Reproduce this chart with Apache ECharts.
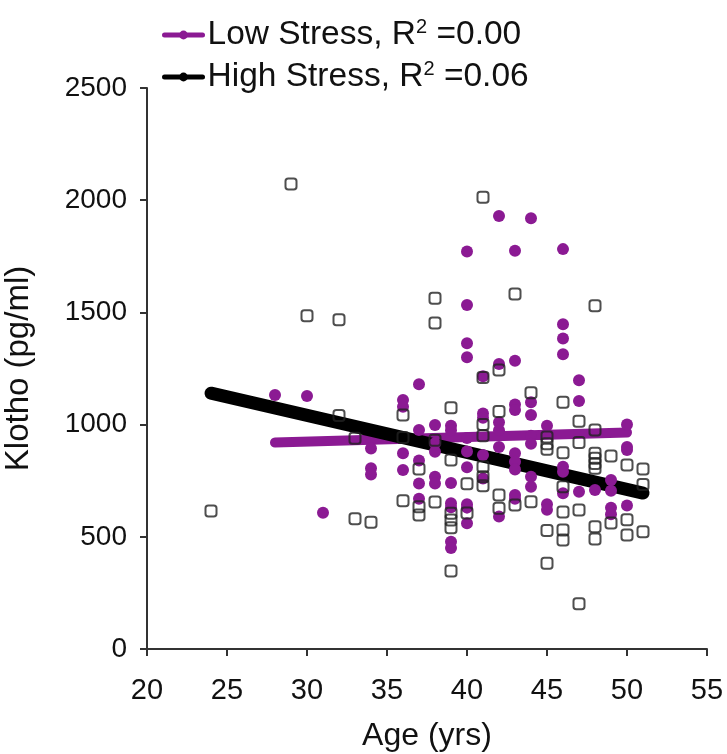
<!DOCTYPE html>
<html>
<head>
<meta charset="utf-8">
<script src="https://cdn.jsdelivr.net/npm/echarts@6/dist/echarts.min.js"></script>
<style>
html,body{margin:0;padding:0;background:#fff;}
#chart{width:727px;height:754px;}
</style>
</head>
<body>
<div id="chart"></div>
<script>
// ---- data ----
const xTicks = [20, 25, 30, 35, 40, 45, 50, 55];
const yTicks = [0, 500, 1000, 1500, 2000, 2500];

const lowAge = [
  28, 30, 31,
  34, 34, 34,
  36, 36, 36, 36,
  37, 37, 37, 37, 37,
  38, 38, 38, 38, 38,
  39, 39, 39, 39, 39, 39, 39,
  40, 40, 40, 40, 40, 40, 40, 40, 40, 40,
  41, 41, 41, 41, 41,
  42, 42, 42, 42, 42, 42,
  43, 43, 43, 43, 43, 43, 43, 43, 43,
  44, 44, 44, 44, 44, 44, 44,
  45, 45, 45,
  46, 46, 46, 46, 46, 46, 46,
  47, 47, 47,
  48,
  49, 49, 49, 49,
  50, 50, 50, 50
];
const lowKlotho = [
  1132, 1127, 607,
  894, 805, 778,
  1110, 1080, 872, 798,
  1180, 976, 840, 738, 670,
  998, 917, 879, 768, 738,
  995, 975, 740, 650, 632, 478, 450,
  1771, 1533, 1362, 1300, 940, 880, 810, 645, 630, 560,
  1215, 1050, 1030, 865, 760,
  1930, 1270, 1010, 975, 900, 590,
  1775, 1285, 1090, 1065, 872, 835, 800, 686, 670,
  1920, 1100, 1043, 950, 915, 768, 723,
  995, 645, 620,
  1782, 1447, 1384, 1314, 812, 790, 694,
  1198, 1105, 701,
  709,
  753, 705, 630, 600,
  1000, 900, 887, 640
];

const highAge = [
  24, 29, 30,
  32, 32,
  33, 33,
  34,
  36, 36, 36,
  37, 37, 37,
  38, 38, 38, 38,
  39, 39, 39, 39, 39, 39,
  40, 40,
  41, 41, 41, 41, 41, 41, 41,
  42, 42, 42, 42,
  43, 43,
  44, 44,
  45, 45, 45, 45, 45,
  46, 46, 46, 46, 46, 46,
  47, 47, 47, 47,
  48, 48, 48, 48, 48, 48, 48, 48,
  49, 49,
  50, 50, 50,
  51, 51, 51
];
const highKlotho = [
  615, 2072, 1485,
  1467, 1040,
  939, 580,
  565,
  1043, 943, 661,
  802, 634, 597,
  1563, 1453, 930, 655,
  1075, 842, 605, 575, 540, 348,
  736, 606,
  2013, 1210, 1000, 950, 812, 768, 728,
  1243, 1058, 686, 627,
  1582, 642,
  1142, 656,
  945, 915, 890, 528, 382,
  1100, 875, 723, 610, 530, 486,
  1015, 920, 619, 202,
  1530, 976, 872, 850, 827, 805, 545, 490,
  860, 562,
  820, 576, 508,
  802, 733, 523
];

// trend lines (end points)
const lowTrendAge = [28, 50];
const lowTrendKlotho = [920, 965];
const highTrendAge = [24, 51];
const highTrendKlotho = [1140, 695];

const lowName = 'Low Stress';
const highName = 'High Stress';
const lowR2 = '0.00';
const highR2 = '0.06';

// ---- build ----
const zip = (a, b) => a.map((v, i) => [v, b[i]]);
const purple = '#8b1a93';
const FONT = '"Liberation Sans", Arial, sans-serif';

const chart = echarts.init(document.getElementById('chart'), null, {renderer: 'canvas'});
chart.setOption({
  animation: false,
  backgroundColor: '#ffffff',
  textStyle: {fontFamily: FONT},
  grid: {left: 147, right: 20, top: 88, bottom: 105, containLabel: false, outerBoundsMode: 'none'},
  legend: {
    orient: 'vertical',
    left: 157,
    top: 12,
    itemGap: 7,
    itemWidth: 38,
    itemHeight: 11,
    data: [lowName, highName],
    lineStyle: {width: 5},
    formatter: function (n) {
      const r = n === lowName ? lowR2 : highR2;
      return '{t|' + n + ', R}{s|2}{t| =' + r + '}';
    },
    textStyle: {
      color: '#111',
      rich: {
        t: {fontSize: 33.5, fontFamily: FONT, color: '#111', lineHeight: 36},
        s: {fontSize: 20, fontFamily: FONT, color: '#111', verticalAlign: 'top', lineHeight: 20}
      }
    }
  },
  xAxis: {
    type: 'value',
    min: xTicks[0],
    max: xTicks[xTicks.length - 1],
    interval: 5,
    name: 'Age (yrs)',
    nameLocation: 'middle',
    nameGap: 71,
    nameTextStyle: {fontSize: 32, color: '#111', fontFamily: FONT},
    axisLine: {show: true, lineStyle: {color: '#333', width: 2}},
    axisTick: {show: true, inside: false, length: 7, lineStyle: {color: '#333', width: 2}},
    axisLabel: {fontSize: 29, color: '#111', margin: 27, fontFamily: FONT},
    splitLine: {show: false}
  },
  yAxis: {
    type: 'value',
    min: yTicks[0],
    max: yTicks[yTicks.length - 1],
    interval: 500,
    name: 'Klotho (pg/ml)',
    nameLocation: 'middle',
    nameGap: 112,
    nameRotate: 90,
    nameTextStyle: {fontSize: 33, color: '#111', fontFamily: FONT},
    axisLine: {show: true, lineStyle: {color: '#333', width: 2}},
    axisTick: {show: true, inside: false, length: 7, lineStyle: {color: '#333', width: 2}},
    axisLabel: {fontSize: 28, color: '#111', margin: 20, fontFamily: FONT, formatter: function (v) { return String(v); }},
    splitLine: {show: false}
  },
  series: [
    {
      name: lowName,
      type: 'line',
      data: zip(lowTrendAge, lowTrendKlotho),
      symbol: 'circle',
      symbolSize: 10,
      showSymbol: false,
      itemStyle: {color: purple},
      lineStyle: {color: purple, width: 10, cap: 'round'},
      z: 2
    },
    {
      name: highName,
      type: 'line',
      data: zip(highTrendAge, highTrendKlotho),
      symbol: 'circle',
      symbolSize: 10,
      showSymbol: false,
      itemStyle: {color: '#000'},
      lineStyle: {color: '#000', width: 13, cap: 'round'},
      z: 3
    },
    {
      name: 'lowPts',
      type: 'scatter',
      data: zip(lowAge, lowKlotho),
      symbol: 'circle',
      symbolSize: 12,
      itemStyle: {color: purple, opacity: 1},
      z: 4
    },
    {
      name: 'highPts',
      type: 'scatter',
      data: zip(highAge, highKlotho),
      symbol: 'roundRect',
      symbolSize: 11,
      itemStyle: {color: 'rgba(255,255,255,0)', borderColor: '#222', borderWidth: 2},
      z: 5
    }
  ]
});
</script>
</body>
</html>
